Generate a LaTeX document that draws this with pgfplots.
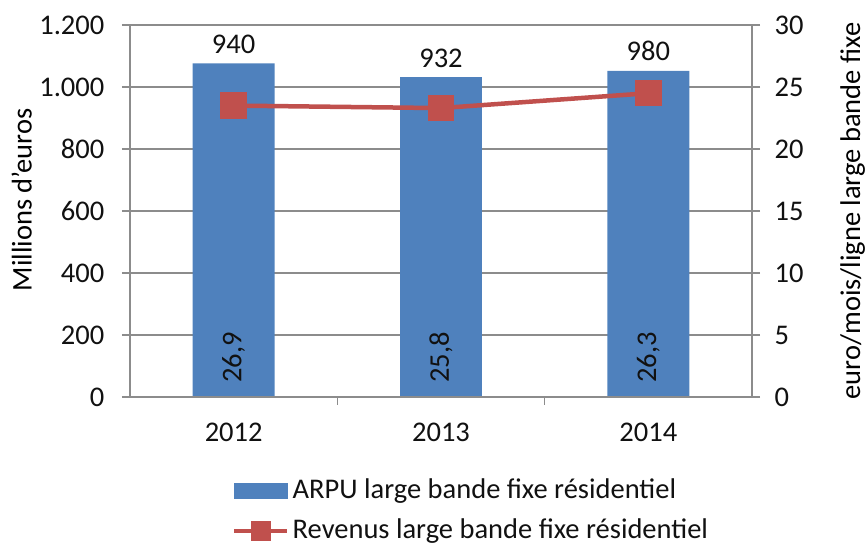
\documentclass[border=0pt]{standalone}
\usepackage{pgfplots}
\pgfplotsset{compat=1.18}
\usepackage{fontspec}
\setmainfont{Carlito}
\definecolor{barblue}{HTML}{4F81BD}
\definecolor{linered}{HTML}{C0504D}
\definecolor{gridgray}{HTML}{8C8C8C}
\definecolor{txt}{HTML}{111111}
\newcommand{\bigfont}{\fontsize{28.5}{34}\selectfont}
\pgfplotsset{
  redleg/.style={legend image code/.code={%
    \draw[mark repeat=2, mark phase=2, ##1, mark options={scale=0.7}]
      plot coordinates {(0pt,0pt) (26.5pt,0pt) (53pt,0pt)};}},
  blueleg/.style={legend image code/.code={%
    \fill[barblue] (0pt,-7.5pt) rectangle (53pt,7.5pt);}},
}

\begin{document}
\bigfont
\begin{tikzpicture}
\pgfplotsset{
  base/.style={
    scale only axis, width=622pt, height=372pt,
    xmin=-0.5, xmax=2.5, ymin=0,
    /pgf/number format/assume math mode=true,
    tick label style={font=\bigfont, text=txt},
    label style={font=\bigfont, text=txt},
    axis line style={gridgray, line width=1.2pt},
    tick style={gridgray, line width=1.2pt},
    tick align=outside, major tick length=8pt,
  }
}
% ARPU (right axis, bars)
\begin{axis}[base,
  ymax=30, ytick={0,5,...,30},
  y tick label style={xshift=5pt},
  axis y line*=right, axis x line=none,
  ymajorgrids, grid style={gridgray, line width=1.2pt},
  ylabel={euro/mois/ligne large bande fixe},
  every axis y label/.style={at={(axis description cs:1.162,0.5)}, anchor=center, rotate=90},
]
\addplot[ybar, bar width=0.395, fill=barblue, draw=none,
  nodes near coords, point meta=explicit symbolic,
  every node near coord/.append style={text=txt, font=\bigfont}]
  coordinates {(0,26.9) [940] (1,25.8) [932] (2,26.3) [980]};
\addplot[draw=none, mark=none,
  nodes near coords, point meta=explicit symbolic,
  every node near coord/.append style={text=txt, font=\bigfont, rotate=90, anchor=center}]
  coordinates {(0,3.2) [{26,9}] (1,3.2) [{25,8}] (2,3.2) [{26,3}]};
\coordinate (O) at (rel axis cs:0,0);
\end{axis}
% Revenus (left axis, line)
\begin{axis}[base,
  ymax=1200, ytick={0,200,...,1200},
  y tick label style={/pgf/number format/1000 sep={.}, xshift=-8pt},
  axis y line*=left, axis x line*=bottom,
  xtick={0.5,1.5}, xticklabels={},
  extra x ticks={0,1,2}, extra x tick labels={2012,2013,2014},
  extra x tick style={major tick length=0pt, x tick label style={yshift=-16pt}},
  ylabel={Millions d'euros},
  every axis y label/.style={at={(axis description cs:-0.174,0.53)}, anchor=center, rotate=90},
  legend style={at={(0.164,-0.212)}, anchor=north west, draw=none, fill=none,
    row sep=10pt, inner sep=0pt, nodes={inner sep=3pt, text=txt, font=\bigfont}},
  legend cell align=left,
]
\addlegendimage{blueleg}
\addlegendentry{ARPU large bande fixe résidentiel}
\addplot[linered, line width=4.5pt, mark=square*, mark size=11pt,
  mark options={solid, fill=linered, draw=none}, redleg]
  coordinates {(0,940) (1,932) (2,980)};
\addlegendentry{Revenus large bande fixe résidentiel}
\end{axis}
\pgfresetboundingbox
\path (O) ++(-130pt,-151pt) rectangle ++(867pt,548pt);
\end{tikzpicture}
\end{document}
